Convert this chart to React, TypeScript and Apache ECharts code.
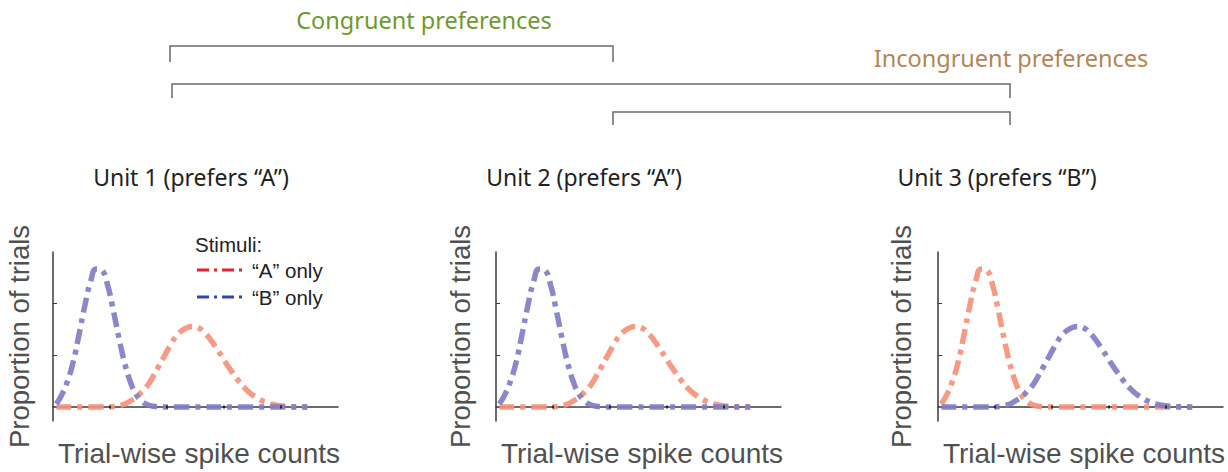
import React, { useEffect, useRef } from 'react';
import * as echarts from 'echarts';

// Spike-count axis positions at which the distributions were read
const SPIKE_COUNTS = [
  0.3, 0.8, 1.3, 1.8, 2.3, 2.8, 3.3, 3.8, 4.3, 4.8,
  5.3, 5.8, 6.3, 6.8, 7.3, 7.8, 8.3, 8.8, 9.3, 9.8,
  10.3, 10.8, 11.3, 11.8, 12.3, 12.8, 13.3, 13.8, 14.3, 14.8,
  15.3, 15.8, 16.3, 16.8, 17.3, 17.8, 18.3, 18.8, 19.3, 19.8,
  20.3, 20.8, 21.3, 21.8, 22.3,
];

// Narrow (low-count) distribution
const NARROW = [
  0.06, 0.25, 0.52, 0.9, 1.42, 1.97, 2.43, 2.67, 2.64, 2.35,
  1.86, 1.32, 0.84, 0.48, 0.24, 0.11, 0.045, 0.016, 0.005, 0,
  0, 0, 0, 0, 0, 0, 0, 0, 0, 0,
  0, 0, 0, 0, 0, 0, 0, 0, 0, 0,
  0, 0, 0, 0, 0,
];

// Wide (high-count) distribution
const WIDE = [
  0, 0, 0, 0, 0, 0, 0, 0, 0, 0,
  0.01, 0.03, 0.06, 0.12, 0.19, 0.3, 0.42, 0.6, 0.8, 1.0,
  1.2, 1.37, 1.48, 1.54, 1.56, 1.53, 1.44, 1.31, 1.15, 0.98,
  0.81, 0.65, 0.5, 0.37, 0.27, 0.19, 0.125, 0.08, 0.05, 0.03,
  0.015, 0.008, 0.004, 0.002, 0,
];

const UNIT_TITLES = ['Unit 1 (prefers “A”)', 'Unit 2 (prefers “A”)', 'Unit 3 (prefers “B”)'];
const A_CURVES = [WIDE, WIDE, NARROW];
const B_CURVES = [NARROW, NARROW, WIDE];
const X_TICKS = [5, 10, 15, 20];
const Y_TICKS = [1, 2];
const LEGEND_TITLE = 'Stimuli:';
const LEGEND_LABELS = ['“A” only', '“B” only'];
const X_NAME = 'Trial-wise spike counts';
const Y_NAME = 'Proportion of trials';
const GROUP_LABELS = ['Congruent preferences', 'Incongruent preferences'];

const GRID_LEFTS = [53, 496, 938];
const Y_NAME_GAPS = [20, 22, 23];
const GRID_TOP = 252;
const GRID_W = 285;
const GRID_H = 169;
const TITLE_CX = [191, 584, 997];

const ORANGE = '#f4917a';
const BLUE = '#817ec4';
const AXIS = '#3a3a3a';
const HUMANIST = '"Noto Sans", "Open Sans", sans-serif';
const ARIAL = '"Liberation Sans", Arial, sans-serif';

export default function App() {
  const ref = useRef<HTMLDivElement>(null);

  useEffect(() => {
    if (!ref.current) return;
    const chart = echarts.init(ref.current, null, { renderer: 'svg' });

    const grids = GRID_LEFTS.map((left) => ({
      left, top: GRID_TOP, width: GRID_W, height: GRID_H,
      containLabel: false, outerBoundsMode: 'none',
    }));
    const xAxes = GRID_LEFTS.map((_, i) => ({
      type: 'value', gridIndex: i, min: 0, max: 25,
      axisLine: { show: true, lineStyle: { color: AXIS, width: 1.5 } },
      axisTick: { show: false }, axisLabel: { show: false }, splitLine: { show: false },
    }));
    const yAxes = GRID_LEFTS.map((_, i) => ({
      type: 'value', gridIndex: i, min: -0.27, max: 3,
      name: Y_NAME, nameLocation: 'middle', nameRotate: 90, nameGap: Y_NAME_GAPS[i],
      nameTextStyle: { fontFamily: ARIAL, fontSize: 27.5, color: '#505050' },
      axisLine: { show: true, lineStyle: { color: AXIS, width: 1.5 } },
      axisTick: { show: true, inside: true, length: 4, customValues: Y_TICKS, lineStyle: { color: AXIS, width: 1 } },
      axisLabel: { show: false }, splitLine: { show: false },
    }));

    const series: any[] = [];
    GRID_LEFTS.forEach((_, i) => {
      series.push({
        type: 'line', name: LEGEND_LABELS[0], xAxisIndex: i, yAxisIndex: i,
        data: SPIKE_COUNTS.map((x, k) => [x, A_CURVES[i][k]]),
        smooth: true, showSymbol: false, silent: true,
        lineStyle: { color: ORANGE, width: 5.5, type: [15, 6, 5, 6], cap: 'butt', opacity: 0.92 },
        z: 2,
      });
      series.push({
        type: 'line', name: LEGEND_LABELS[1], xAxisIndex: i, yAxisIndex: i,
        data: SPIKE_COUNTS.map((x, k) => [x, B_CURVES[i][k]]),
        smooth: true, showSymbol: false, silent: true,
        lineStyle: { color: BLUE, width: 5.5, type: [15, 6, 5, 6], cap: 'butt', opacity: 0.92 },
        z: 3,
      });
      series.push({
        type: 'scatter', xAxisIndex: i, yAxisIndex: i, silent: true,
        data: X_TICKS.map((x) => [x, 0]),
        symbol: 'rect', symbolSize: [2, 3], itemStyle: { color: '#111' }, z: 5,
      });
    });

    const graphic: any[] = [];
    const txt = (x: number, y: number, text: string, font: string, fill: string, align = 'center') => ({
      type: 'text', x, y,
      style: { text, font, fill, align, verticalAlign: 'middle', textAlign: align, textVerticalAlign: 'middle' },
    });
    graphic.push(txt(424, 20, GROUP_LABELS[0], `23.5px ${HUMANIST}`, '#6e9a2d'));
    graphic.push(txt(1011, 58, GROUP_LABELS[1], `23.5px ${HUMANIST}`, '#b38556'));
    const brackets = [
      [[170, 62], [170, 46], [613, 46], [613, 62]],
      [[172, 98], [172, 84], [1010, 84], [1010, 98]],
      [[613, 125], [613, 112], [1010, 112], [1010, 125]],
    ];
    brackets.forEach((pts) => graphic.push({
      type: 'polyline', shape: { points: pts },
      style: { stroke: '#6a6a6a', lineWidth: 1.5, fill: 'none' },
    }));
    UNIT_TITLES.forEach((t, i) => {
      graphic.push(txt(TITLE_CX[i], 177, t, `23px ${HUMANIST}`, '#222'));
      graphic.push(txt(GRID_LEFTS[i] + 146, 453, X_NAME, `28px ${ARIAL}`, '#505050'));
    });
    graphic.push(txt(195, 244, LEGEND_TITLE, `20.5px ${ARIAL}`, '#222', 'left'));
    const legendColors = ['#e3232b', '#3447a4'];
    LEGEND_LABELS.forEach((lab, j) => {
      const y = 270 + j * 27;
      graphic.push({
        type: 'line', shape: { x1: 197, y1: y, x2: 243, y2: y },
        style: { stroke: legendColors[j], lineWidth: 3, lineDash: [12, 5, 3, 5] },
      });
      graphic.push(txt(252, y, lab, `20.5px ${ARIAL}`, '#222', 'left'));
    });

    chart.setOption({
      animation: false,
      backgroundColor: '#ffffff',
      grid: grids,
      xAxis: xAxes,
      yAxis: yAxes,
      series,
      graphic,
    });

    return () => chart.dispose();
  }, []);

  return (
    <div
      ref={ref}
      style={{ position: 'absolute', left: 0, top: 0, width: 1228, height: 472 }}
    />
  );
}
